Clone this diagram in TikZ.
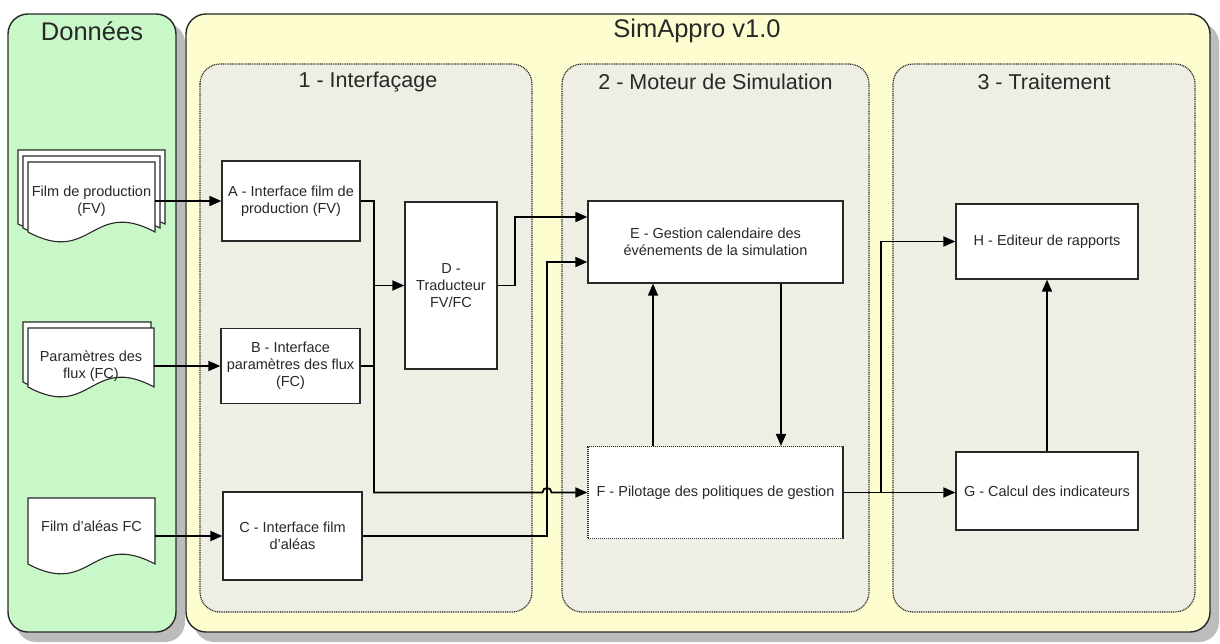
\documentclass[tikz,border=0pt]{standalone}
\usepackage{fontspec}
\setmainfont{Liberation Sans}
\usetikzlibrary{arrows.meta,calc}
\definecolor{pgreen}{RGB}{200,247,200}
\definecolor{pyellow}{RGB}{254,253,208}
\definecolor{pgrey}{RGB}{238,238,228}
\definecolor{pshadow}{RGB}{188,188,188}
\definecolor{ink}{RGB}{40,40,40}
\newcommand\drawdoc[5]{% x1,y1,x2,yb,amp
  \path[docpage] (#1,#2) -- (#3,#2) -- (#3,#4)
    .. controls ({(#1+#3)/2},{#4-#5}) and ({(#1+#3)/2},{#4+#5}) .. (#1,#4) -- cycle;}
\begin{document}
\begin{tikzpicture}[x=1pt,y=-1pt,
  outer/.style={draw=ink, line width=1.4pt, rounded corners=20pt},
  shadowbox/.style={fill=pshadow, rounded corners=20pt},
  subpanel/.style={draw=ink, line width=1.2pt, dash pattern=on 1pt off 0.8pt, fill=pgrey, rounded corners=20pt},
  bigtitle/.style={font=\fontsize{25.5}{30}\selectfont, text=ink, inner sep=0pt},
  subtitle/.style={font=\fontsize{21.5}{26}\selectfont, text=ink, inner sep=0pt},
  box/.style={draw=ink, line width=1.3pt, fill=white, align=center, font=\fontsize{14.5}{17}\selectfont, text=ink, inner sep=0pt},
  dbox/.style={box, dash pattern=on 1.2pt off 0.8pt, line width=1.2pt},
  docpage/.style={draw=ink, line width=1.1pt, fill=white},
  doctext/.style={align=center, font=\fontsize{14.5}{17}\selectfont, text=ink, inner sep=0pt, minimum width=127pt},
  conn/.style={draw=black, line width=1.8pt},
  arr/.style={conn, -{Triangle[length=12pt,width=10pt]}},
]
\useasboundingbox (0,0) rectangle (1220,643);
% outer panels
\path[shadowbox] (16,23) rectangle (185,642);
\path[shadowbox] (194,23) rectangle (1219,642);
\path[outer, fill=pgreen] (8,14) rectangle (176,632);
\path[outer, fill=pyellow] (186,14) rectangle (1210,632);
\node[bigtitle] (tdon) at (92,31) {Données};
\node[bigtitle] (tsim) at (697,31) {SimAppro v1.0};
% sub panels
\path[subpanel] (200,64) rectangle (532,612);
\path[subpanel] (562,64) rectangle (869,612);
\path[subpanel] (893,64) rectangle (1195,612);
\node[subtitle] (t1) at (368,82) {1 - Interfaçage};
\node[subtitle] (t2) at (715.5,82) {2 - Moteur de Simulation};
\node[subtitle] (t3) at (1044,82) {3 - Traitement};
% documents
\drawdoc{18}{150}{165}{224}{34}
\drawdoc{23}{156}{160}{228}{34}
\drawdoc{28}{162}{155}{232}{34}
\node[doctext] (fp) at (91.5,201) {Film de production\\(FV)};
\drawdoc{23}{322}{151}{382}{34}
\drawdoc{28}{328}{154}{387}{34}
\node[doctext, minimum width=126pt] (pf) at (91,366) {Paramètres des\\flux (FC)};
\drawdoc{28}{498}{155}{564}{34}
\node[doctext] (fa) at (91.5,526) {Film d'aléas FC};
% boxes
\node[box, minimum width=138pt, minimum height=80pt] (A) at (291,201) {A - Interface film de\\production (FV)};
\node[box, minimum width=139pt, minimum height=75pt] (B) at (290.5,366) {B - Interface\\paramètres des flux\\(FC)};
\node[box, minimum width=139pt, minimum height=88pt] (C) at (292.5,536) {C - Interface film\\d'aléas};
\node[box, minimum width=92pt, minimum height=167pt] (D) at (451,285.5) {D -\\Traducteur\\FV/FC};
\node[box, minimum width=255pt, minimum height=82pt] (E) at (715.5,242) {E - Gestion calendaire des\\événements de la simulation};
\node[dbox, minimum width=255pt, minimum height=92pt] (F) at (715.5,492.5) {F - Pilotage des politiques de gestion};
\node[box, minimum width=182pt, minimum height=78pt] (G) at (1047,491) {G - Calcul des indicateurs};
\node[box, minimum width=182pt, minimum height=75pt] (H) at (1047,241.5) {H - Editeur de rapports};
% helper coordinates
\coordinate (j1) at (374,285.5);
\coordinate (cx) at (547,0);
\coordinate (dx) at (515,0);
\coordinate (fx) at (653,0);
\coordinate (ex) at (781,0);
\coordinate (hx) at (881,0);
\coordinate (e1) at ($(E.west)+(0,-25)$);
\coordinate (e2) at ($(E.west)+(0,20)$);
% connectors
\draw[arr] (fp.east) -- (A.west);
\draw[arr] (pf.east) -- (B.west);
\draw[arr] (fa.east |- C.west) -- (C.west);
\draw[conn] (A.east) -| (j1);
\draw[conn] (B.east) -| (j1);
\draw[arr] (j1) -- (D.west);
\draw[arr] (C.east) -- (C.east -| cx) -- (cx |- e2) -- (e2);
\draw[arr] (B.east -| j1) -- (j1 |- F.west) -- ($(cx |- F.west)+(-4.5,0)$)
   .. controls ($(cx |- F.west)+(-4.5,-6)$) and ($(cx |- F.west)+(4.5,-6)$) .. ($(cx |- F.west)+(4.5,0)$) -- (F.west);
\draw[arr] (D.east) -- (D.east -| dx) -- (dx |- e1) -- (e1);
\draw[arr] (F.north -| fx) -- (E.south -| fx);
\draw[arr] (E.south -| ex) -- (F.north -| ex);
\draw[arr] (F.east) -- (F.east -| G.west);
\draw[arr] (F.east -| hx) |- (H.west);
\draw[arr] (G.north) -- (H.south);
\end{tikzpicture}
\end{document}
